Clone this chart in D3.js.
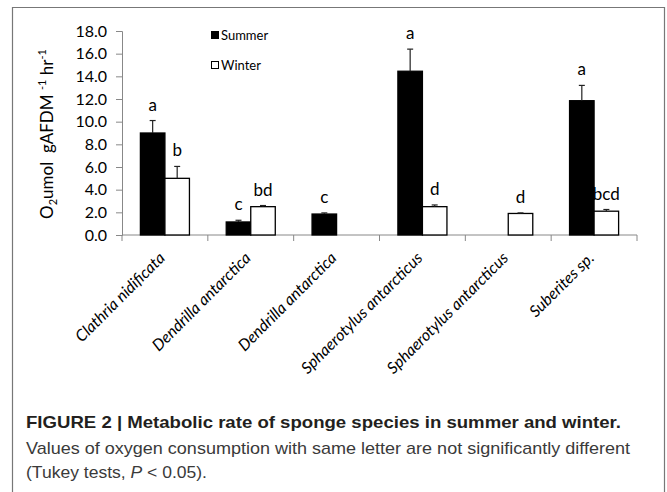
<!DOCTYPE html>
<html>
<head>
<meta charset="utf-8">
<script src="https://cdn.jsdelivr.net/npm/d3@7"></script>
<style>
  body { margin: 0; background: #fff; }
  svg { display: block; }
</style>
</head>
<body>
<div id="chart"></div>
<script>
// species (two rows share a name in the original figure)
var species = ["Clathria nidificata", "Dendrilla antarctica", "Dendrilla antarctica",
               "Sphaerotylus antarcticus", "Sphaerotylus antarcticus", "Suberites sp."];
var seasons = ["Summer", "Winter"];

// O2 umol gAFDM-1 hr-1, null = not measured
var summerMean = [9.0, 1.15, 1.85, 14.45, null, 11.85];
var summerErr  = [1.1, 0.15, 0.1, 1.95, null, 1.35];
var winterMean = [5.0, 2.5, null, 2.5, 1.9, 2.1];
var winterErr  = [1.05, 0.1, null, 0.15, 0.05, 0.15];

var summerLetters = ["a", "c", "c", "a", null, "a"];
var winterLetters = ["b", "bd", null, "d", "d", "bcd"];

var yTicks = [0, 2, 4, 6, 8, 10, 12, 14, 16, 18];

var width = 667, height = 492;
var margin = {left: 122, right: 30, top: 31, bottom: 257};
var chartFont = "Lato, 'Noto Sans', sans-serif";

var svg = d3.select("#chart").append("svg")
    .attr("width", width)
    .attr("height", height);

// frame round figure + caption (bottom edge is cut off)
svg.append("path")
    .attr("d", "M12.5," + height + "V7.5H664.5V" + height)
    .attr("fill", "none")
    .attr("stroke", "#777")
    .attr("stroke-width", 1.2);

var x0 = d3.scaleBand()
    .domain(d3.range(species.length))
    .range([margin.left, 637]);

var x1 = d3.scaleBand()
    .domain(seasons)
    .range([0, x0.bandwidth()])
    .paddingOuter(0.75);

var y = d3.scaleLinear()
    .domain([0, 18])
    .range([235, 31]);

var rows = species.map(function(name, i) {
    return [
        {i: i, season: "Summer", v: summerMean[i], e: summerErr[i], letter: summerLetters[i]},
        {i: i, season: "Winter", v: winterMean[i], e: winterErr[i], letter: winterLetters[i]}
    ];
});
var bars = d3.merge(rows).filter(function(d) { return d.v != null; });

// y axis
var yAxis = svg.append("g")
    .attr("transform", "translate(" + margin.left + ",0)")
    .call(d3.axisLeft(y).tickValues(yTicks).tickSize(6).tickPadding(9)
        .tickFormat(d3.format(".1f")));
yAxis.select(".domain").attr("stroke", "#888");
yAxis.selectAll(".tick line").attr("stroke", "#888");
yAxis.selectAll("text")
    .attr("font-family", chartFont)
    .attr("font-size", 16)
    .attr("fill", "#000");

// x axis, ticks at category boundaries
var xAxis = svg.append("g")
    .attr("transform", "translate(0," + y(0) + ")");
xAxis.append("line")
    .attr("x1", margin.left).attr("x2", 637)
    .attr("stroke", "#888");
xAxis.selectAll(".tk")
    .data(d3.range(species.length + 1))
    .enter().append("line")
    .attr("class", "tk")
    .attr("x1", function(i) { return i < species.length ? x0(i) : x0(i - 1) + x0.bandwidth(); })
    .attr("x2", function(i) { return i < species.length ? x0(i) : x0(i - 1) + x0.bandwidth(); })
    .attr("y1", 0).attr("y2", 6)
    .attr("stroke", "#888");

xAxis.selectAll(".lbl")
    .data(species)
    .enter().append("text")
    .attr("class", "lbl")
    .attr("transform", function(d, i) {
        var cx = x0(i) + x0.bandwidth() / 2;
        return "translate(" + (cx + 1) + "," + 24 + ") rotate(-45)";
    })
    .attr("text-anchor", "end")
    .attr("font-family", chartFont)
    .attr("font-style", "italic")
    .attr("font-size", 16)
    .text(function(d) { return d; });

// bars
svg.selectAll(".bar")
    .data(bars)
    .enter().append("rect")
    .attr("class", "bar")
    .attr("x", function(d) { return x0(d.i) + x1(d.season); })
    .attr("width", x1.bandwidth())
    .attr("y", function(d) { return y(d.v); })
    .attr("height", function(d) { return y(0) - y(d.v); })
    .attr("fill", function(d) { return d.season == "Summer" ? "#000" : "#fff"; })
    .attr("stroke", "#000")
    .attr("stroke-width", 1.3);

// error bars (upper half only)
var eb = svg.selectAll(".err")
    .data(bars)
    .enter().append("g")
    .attr("class", "err")
    .attr("transform", function(d) {
        return "translate(" + (x0(d.i) + x1(d.season) + x1.bandwidth() / 2) + ",0)";
    });
eb.append("line")
    .attr("y1", function(d) { return y(d.v); })
    .attr("y2", function(d) { return y(d.v + d.e); })
    .attr("stroke", "#222")
    .attr("stroke-width", 1.2);
eb.append("line")
    .attr("x1", -3).attr("x2", 3)
    .attr("y1", function(d) { return y(d.v + d.e); })
    .attr("y2", function(d) { return y(d.v + d.e); })
    .attr("stroke", "#222")
    .attr("stroke-width", 1.2);

// significance letters
svg.selectAll(".letter")
    .data(bars.filter(function(d) { return d.letter; }))
    .enter().append("text")
    .attr("class", "letter")
    .attr("x", function(d) { return x0(d.i) + x1(d.season) + x1.bandwidth() / 2; })
    .attr("y", function(d) { return y(d.v + d.e) - 10; })
    .attr("text-anchor", "middle")
    .attr("font-family", chartFont)
    .attr("font-size", 17)
    .text(function(d) { return d.letter; });

// y title
var yt = svg.append("text")
    .attr("transform", "translate(53,134) rotate(-90)")
    .attr("text-anchor", "middle")
    .attr("font-family", chartFont)
    .attr("font-size", 17)
    .style("white-space", "pre");
yt.append("tspan").text("O");
yt.append("tspan").attr("font-size", 11).attr("dy", 4).text("2");
yt.append("tspan").attr("dy", -4).text("umol\u00a0\u00a0gAFDM ");
yt.append("tspan").attr("font-size", 11).attr("dy", -7).text("-1");
yt.append("tspan").attr("dy", 7).text(" hr");
yt.append("tspan").attr("font-size", 11).attr("dy", -7).text("-1");

// legend
var leg = svg.append("g").attr("transform", "translate(211,31)");
leg.selectAll("rect")
    .data(seasons)
    .enter().append("rect")
    .attr("x", 0.5)
    .attr("y", function(d, i) { return i * 30 + 0.5; })
    .attr("width", 7).attr("height", 7)
    .attr("fill", function(d) { return d == "Summer" ? "#000" : "#fff"; })
    .attr("stroke", "#000");
leg.selectAll("text")
    .data(seasons)
    .enter().append("text")
    .attr("x", 10)
    .attr("y", function(d, i) { return i * 30 + 8.5; })
    .attr("font-family", chartFont)
    .attr("font-size", 13)
    .text(function(d) { return d; });

// caption
var capFont = "'Liberation Sans Narrow', 'Liberation Sans', Arial, sans-serif";
svg.append("text")
    .attr("x", 26).attr("y", 428)
    .attr("font-family", capFont)
    .attr("font-weight", "bold")
    .attr("font-size", 16.5)
    .attr("fill", "#231f20")
    .attr("textLength", 595)
    .attr("lengthAdjust", "spacingAndGlyphs")
    .text("FIGURE 2 | Metabolic rate of sponge species in summer and winter.");
svg.append("text")
    .attr("x", 26).attr("y", 454)
    .attr("font-family", capFont)
    .attr("font-size", 17)
    .attr("fill", "#3a3a3a")
    .attr("textLength", 604)
    .attr("lengthAdjust", "spacingAndGlyphs")
    .text("Values of oxygen consumption with same letter are not significantly different");
var l3 = svg.append("text")
    .attr("x", 26).attr("y", 478)
    .attr("font-family", capFont)
    .attr("font-size", 17)
    .attr("fill", "#3a3a3a")
    .attr("textLength", 181)
    .attr("lengthAdjust", "spacingAndGlyphs");
l3.append("tspan").text("(Tukey tests, ");
l3.append("tspan").attr("font-style", "italic").text("P");
l3.append("tspan").text(" < 0.05).");
</script>
</body>
</html>
